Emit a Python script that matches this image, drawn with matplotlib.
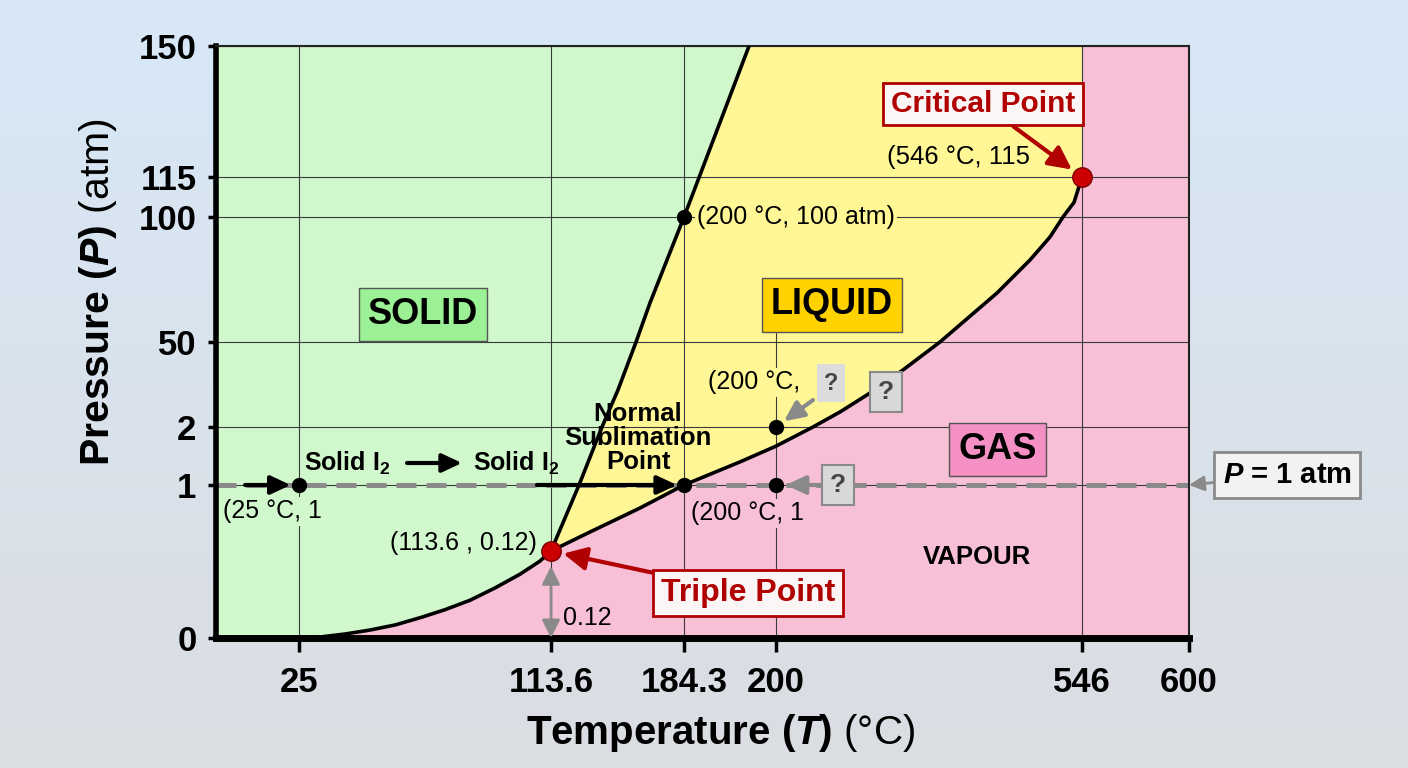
import numpy as np
import matplotlib.pyplot as plt
from matplotlib.colors import LinearSegmentedColormap
from matplotlib.transforms import offset_copy

plt.rcParams['font.family'] = ['Liberation Sans', 'DejaVu Sans']
plt.rcParams['mathtext.fontset'] = 'custom'
plt.rcParams['mathtext.rm'] = 'Liberation Sans'
plt.rcParams['mathtext.it'] = 'Liberation Sans:italic:bold'
plt.rcParams['mathtext.bf'] = 'Liberation Sans:bold'

# ---- data ----
t_ticks = [25, 113.6, 184.3, 200, 546, 600]
t_labels = ['25', '113.6', '184.3', '200', '546', '600']
p_ticks = [0, 1, 2, 50, 100, 115, 150]
p_labels = ['0', '1', '2', '50', '100', '115', '150']

# solid / vapour boundary
sub_T = [25, 32.4, 41.2, 50.0, 58.8, 67.6, 76.3, 85.1, 93.9, 102.7, 109.7, 113.6]
sub_P = [0, 0.0014, 0.0055, 0.011, 0.018, 0.028, 0.039, 0.052, 0.069, 0.088, 0.106, 0.12]
# solid / liquid boundary
fus_T = [113.6, 128.5, 140.7, 149.2, 158.8, 166.2, 184.3, 186.9, 195.4]
fus_P = [0.12, 1, 2, 22.9, 50, 65.6, 100, 115, 150]
# liquid / vapour boundary
vap_T = [113.6, 134.3, 160.9, 184.3, 193.9, 200, 241.8, 272.4, 302.9, 343.6,
         385.4, 449.9, 487.2, 509.8, 524.5, 537.0, 546]
vap_P = [0.12, 0.373, 0.693, 1, 1.40, 1.67, 2, 10.5, 20.1, 34.2,
         50, 69.6, 82.8, 92.0, 100, 105.5, 115]

triple_T, triple_P = 113.6, 0.12
crit_T, crit_P = 546, 115
pts_T = [25, 184.3, 200, 200, 184.3]
pts_P = [1, 1, 1, 2, 100]

# ---- the axes are not linear: piecewise scale between tick values ----
x_breaks = [0, 25, 113.6, 184.3, 200, 546, 600]
x_pos = [0, 83, 335, 468, 560, 866, 973]
y_breaks = [0, 0.12, 1, 2, 50, 100, 115, 150]
y_pos = [0, 87, 153, 211, 296, 421, 461, 592]

green = '#d0f8cc'
yellow = '#fff796'
pink = '#f8c0d6'
red = '#b00000'
grey = '#8a8a8a'

fig = plt.figure(figsize=(14.08, 7.68), dpi=100)

# background gradient
bg = fig.add_axes([0, 0, 1, 1], zorder=-10)
cmap = LinearSegmentedColormap.from_list('bg', ['#d7e8f7', '#dbdde2'])
bg.imshow(np.linspace(0, 1, 256).reshape(-1, 1), aspect='auto', cmap=cmap)
bg.axis('off')

ax = fig.add_axes([216 / 1408, 1 - 638 / 768, 973 / 1408, 592 / 768])
ax.set_xscale('function', functions=(lambda v: np.interp(v, x_breaks, x_pos),
                                     lambda p: np.interp(p, x_pos, x_breaks)))
ax.set_yscale('function', functions=(lambda v: np.interp(v, y_breaks, y_pos),
                                     lambda p: np.interp(p, y_pos, y_breaks)))
ax.set_xlim(0, 600)
ax.set_ylim(0, 150)
ax.set_facecolor(pink)

# phase regions
ax.fill([0] + sub_T + fus_T[1:] + [0], [0] + sub_P + fus_P[1:] + [150],
        color=green, lw=0, zorder=0.5)
ax.fill(fus_T + [546] + vap_T[::-1], fus_P + [150] + vap_P[::-1],
        color=yellow, lw=0, zorder=0.5)

# grid
for t in t_ticks:
    if t == 200:
        ax.axvline(t, ymax=0.519, color='#3a3a3a', lw=0.8, zorder=1)
    else:
        ax.axvline(t, color='#3a3a3a', lw=0.8, zorder=1)
for p in p_ticks[1:]:
    ax.axhline(p, color='#3a3a3a', lw=0.8, zorder=1)

ax.axhline(1, color=grey, lw=3.6, ls=(0, (4, 2)), zorder=2)

# boundaries
ax.plot(sub_T, sub_P, color='k', lw=2.6, zorder=3, solid_joinstyle='round')
ax.plot(fus_T, fus_P, color='k', lw=2.6, zorder=3, solid_joinstyle='round')
ax.plot(vap_T, vap_P, color='k', lw=2.6, zorder=3, solid_joinstyle='round')

ax.plot(pts_T, pts_P, 'o', color='k', ms=10, zorder=5)
ax.plot([triple_T, crit_T], [triple_P, crit_P], 'o', ms=14,
        mfc='#cc0000', mec='#7a0000', mew=1, zorder=5)

# spines and ticks
ax.spines['left'].set_linewidth(4)
ax.spines['bottom'].set_linewidth(5)
for s in ['top', 'right']:
    ax.spines[s].set_linewidth(1.5)
    ax.spines[s].set_color('#222222')
ax.set_xticks(t_ticks, labels=t_labels)
ax.set_yticks(p_ticks, labels=p_labels)
ax.minorticks_off()
ax.tick_params(axis='y', length=6, width=2.5, pad=8, labelsize=25)
ax.tick_params(axis='x', length=10, width=2.5, pad=10, labelsize=25)
for lab in ax.get_xticklabels() + ax.get_yticklabels():
    lab.set_fontweight('bold')

ax.text(-0.121, 0.584, r'Pressure ($P$) $\mathrm{(atm)}$', transform=ax.transAxes,
        rotation=90, ha='center', va='center', fontsize=29.5, fontweight='bold')
ax.text(0.519, -0.160, r'Temperature ($T$) $\mathrm{(°C)}$', transform=ax.transAxes,
        ha='center', va='center', fontsize=29, fontweight='bold')


def off(dx, dy):
    return offset_copy(ax.transData, fig=fig, x=dx, y=dy, units='dots')


def arrow(xy, tail, color='k', lw=3, shrink=6, style='-|>,head_length=0.6,head_width=0.28'):
    ax.annotate('', xy=xy, xytext=xy, textcoords=off(*tail),
                arrowprops=dict(arrowstyle=style, color=color, lw=lw,
                                shrinkA=0, shrinkB=shrink, mutation_scale=20),
                zorder=4)


# region labels
box = dict(boxstyle='square,pad=0.25', ec='#555555', lw=1)
ax.text(0.213, 0.546, 'SOLID', transform=ax.transAxes, ha='center', va='center',
        fontsize=26, fontweight='bold', bbox=dict(box, fc='#9cf095'), zorder=6)
ax.text(0.633, 0.5625, 'LIQUID', transform=ax.transAxes, ha='center', va='center',
        fontsize=26, fontweight='bold', bbox=dict(box, fc='#ffd200'), zorder=6)
ax.text(0.803, 0.318, 'GAS', transform=ax.transAxes, ha='center', va='center',
        fontsize=26, fontweight='bold', bbox=dict(box, fc='#f590c4'), zorder=6)
ax.text(0.782, 0.137, 'VAPOUR', transform=ax.transAxes, ha='center', va='center',
        fontsize=18.5, fontweight='bold', zorder=6)


def label(s, xy, dxy, ha='left', fc=None, **kw):
    bb = dict(boxstyle='square,pad=0.1', fc=fc, ec='none') if fc else None
    ax.annotate(s, xy=xy, xytext=dxy, textcoords='offset pixels', ha=ha,
                va='center', fontsize=kw.pop('fontsize', 18), bbox=bb,
                zorder=kw.pop('zorder', 6), **kw)


# path along P = 1 atm
arrow((25, 1), (-54, 0))
label('(25 °C, 1', (25, 1), (-76, -26), fc=green, zorder=4.5)
label(r'Solid I$_\mathbf{2}$', (25, 1), (5, 22), fontsize=18, fontweight='bold')
ax.annotate('', xy=(25, 1), xycoords=off(163, 22), xytext=(25, 1), textcoords=off(108, 22),
            arrowprops=dict(arrowstyle='-|>,head_length=0.6,head_width=0.28', color='k',
                            lw=3, shrinkA=0, shrinkB=0, mutation_scale=20), zorder=4)
label(r'Solid I$_\mathbf{2}$', (25, 1), (174, 22), fontsize=18, fontweight='bold')
arrow((184.3, 1), (-147, 0), shrink=5)
label('Normal\nSublimation\nPoint', (184.3, 1), (-46, 47), ha='center',
      fontsize=18.5, fontweight='bold', linespacing=1.0)

label('(200 °C, 100 atm)', (184.3, 100), (13, 0), fc=yellow)
label('(200 °C, 1', (184.3, 1), (7, -28), fc=pink, zorder=4.5)
label('(200 °C,', (200, 2), (-68, 45), fc=yellow)

qbox = dict(boxstyle='square,pad=0.3', fc='#d8d8d8', ec=grey, lw=1.5)
ax.annotate('?', xy=(200, 2), xytext=(55, 44), textcoords='offset pixels', ha='center',
            va='center', fontsize=17, fontweight='bold', color='#444444',
            bbox=dict(boxstyle='square,pad=0.3', fc='#dcdcdc', ec='none'), zorder=6)
ax.annotate('?', xy=(200, 2), xytext=(110, 35), textcoords='offset pixels', ha='center',
            va='center', fontsize=19, fontweight='bold', color='#444444', bbox=qbox, zorder=6)
arrow((200, 2), (37, 27), color=grey, lw=3, shrink=7)
ax.annotate('?', xy=(200, 1), xytext=(62, 0), textcoords='offset pixels', ha='center',
            va='center', fontsize=19, fontweight='bold', color='#444444', bbox=qbox, zorder=6)
arrow((200, 1), (44, 0), color=grey, lw=3, shrink=7)

# triple point
ax.annotate('Triple Point', xy=(triple_T, triple_P), xytext=(197, -42),
            textcoords='offset pixels', ha='center', va='center', fontsize=23,
            fontweight='bold', color=red,
            bbox=dict(boxstyle='square,pad=0.25', fc='#fbf5f5', ec=red, lw=2),
            arrowprops=dict(arrowstyle='-|>,head_length=0.7,head_width=0.35', color=red,
                            lw=3, shrinkA=0, shrinkB=9, mutation_scale=20), zorder=6)
label('(113.6 , 0.12)', (triple_T, triple_P), (-14, 8), ha='right')
label('0.12', (triple_T, triple_P), (12, -67))
ax.annotate('', xy=(triple_T, 0), xytext=(triple_T, triple_P),
            arrowprops=dict(arrowstyle='<|-|>,head_length=0.6,head_width=0.3', color=grey,
                            lw=2, shrinkA=11, shrinkB=0, mutation_scale=18), zorder=4)

# critical point
ax.annotate('Critical Point', xy=(crit_T, crit_P), xytext=(-99, 73),
            textcoords='offset pixels', ha='center', va='center', fontsize=21.5,
            fontweight='bold', color=red,
            bbox=dict(boxstyle='square,pad=0.25', fc='#fbf5f5', ec=red, lw=2),
            arrowprops=dict(arrowstyle='-|>,head_length=0.7,head_width=0.35', color=red,
                            lw=3, shrinkA=0, shrinkB=9, mutation_scale=20), zorder=6)
label('(546 °C, 115', (crit_T, crit_P), (-52, 20), ha='right', fontsize=18.5)

# P = 1 atm callout
ax.annotate(r'$P$ = 1 atm', xy=(600, 1), xytext=(98, 10), textcoords='offset pixels',
            ha='center', va='center', fontsize=21, fontweight='bold',
            bbox=dict(boxstyle='square,pad=0.3', fc='#f2f2f2', ec=grey, lw=2),
            arrowprops=dict(arrowstyle='-|>,head_length=0.5,head_width=0.25', color=grey,
                            lw=2, shrinkA=0, shrinkB=0, mutation_scale=18),
            annotation_clip=False, zorder=6)

fig.savefig('out.png', dpi=100)
